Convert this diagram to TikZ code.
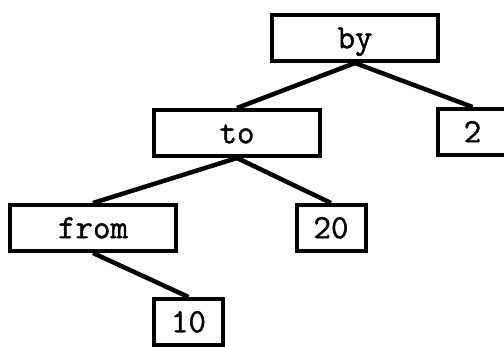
\documentclass[tikz,border=0pt]{standalone}
\usepackage{fontspec}
\usepackage{tikz}
\usetikzlibrary{positioning}
\newfontfamily\treefont{Latin Modern Mono}[BoldFont=Latin Modern Mono, BoldFeatures={FakeBold=1.2}]

\begin{document}
\begin{tikzpicture}[
  x=1pt, y=1pt,
  box/.style={draw, line width=4pt, inner sep=0pt, minimum height=46pt,
    font=\treefont\bfseries\fontsize{34}{34}\selectfont, text height=20.5pt, text depth=0pt},
  bigbox/.style={box, minimum width=166pt},
  smallbox/.style={box, minimum width=69pt},
  edge/.style={line width=4.5pt},
]
\useasboundingbox (0,0) rectangle (504,346);

% Root
\node[bigbox] (by) at (355,308) {by};

% Second level
\node[bigbox, below=45pt of by, xshift=-118pt] (to) {to};
\node[smallbox, below=44pt of by, xshift=117.5pt] (two) {2};

% Third level
\node[bigbox, below=45pt of to, xshift=-144pt] (from) {from};
\node[smallbox, below=45pt of to, xshift=94pt] (twenty) {20};

% Leaf under from
\node[smallbox, below=44pt of from, xshift=95.5pt] (ten) {10};

% Edges
\draw[edge] (by.south) -- (to.north);
\draw[edge] (by.south) -- (two.north);
\draw[edge] (to.south) -- (from.north);
\draw[edge] (to.south) -- (twenty.north);
\draw[edge] (from.south) -- (ten.north);
\end{tikzpicture}
\end{document}
